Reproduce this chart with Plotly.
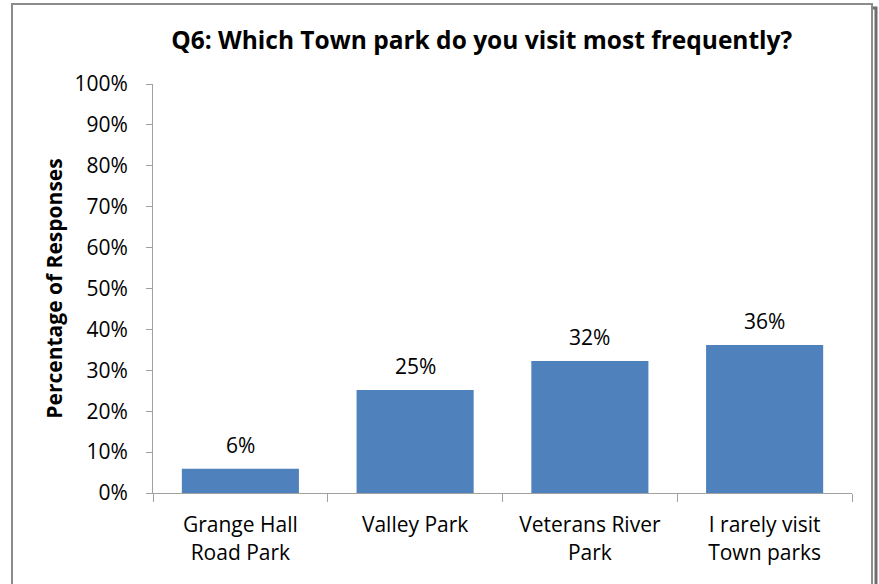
import plotly.graph_objects as go

categories = ["Grange Hall<br>Road Park", "Valley Park", "Veterans River<br>Park", "I rarely visit<br>Town parks"]
values = [5.9, 25.2, 32.3, 36.2]
labels = ["6%", "25%", "32%", "36%"]
y_ticks = list(range(0, 101, 10))
y_tick_labels = [f"{v}%" for v in y_ticks]

W, H = 879, 584
ML, MR, MT, MB = 153, 27, 84, 91
pw, ph = W - ML - MR, H - MT - MB


def px_x(x):
    return (x - ML) / pw


def px_y(y):
    return (H - MB - y) / ph


font = "Open Sans, Liberation Sans, sans-serif"

fig = go.Figure()
fig.add_trace(go.Bar(
    x=categories,
    y=values,
    marker={'color': '#4F81BD', 'line': {'width': 0}},
    width=0.67,
))

# data labels, placed a bit higher above the bars than plotly's default
for cat, val, lab in zip(categories, values, labels):
    fig.add_annotation(x=cat, y=val, text=lab, showarrow=False,
                       yanchor='middle', yshift=24,
                       font={'size': 21, 'color': '#000000', 'family': font})

fig.update_layout(
    width=W, height=H,
    margin={'l': ML, 'r': MR, 't': MT, 'b': MB},
    paper_bgcolor='white',
    plot_bgcolor='white',
    showlegend=False,
    font={'family': font, 'size': 21, 'color': '#000000'},
    title={'text': "<b>Q6: Which Town park do you visit most frequently?</b>",
           'x': 0.548, 'xanchor': 'center', 'y': 1 - 40 / H, 'yanchor': 'middle',
           'font': {'size': 24.5, 'family': font}},
    xaxis={
        'showgrid': False, 'showline': True, 'linecolor': '#A0A0A0', 'linewidth': 1,
        'ticks': 'outside', 'tickson': 'boundaries', 'ticklen': 8, 'tickcolor': '#A0A0A0',
        'tickfont': {'size': 21}, 'zeroline': False, 'ticklabelstandoff': 13,
    },
    yaxis={
        'range': [0, 100], 'tickvals': y_ticks, 'ticktext': y_tick_labels,
        'showgrid': False, 'showline': True, 'linecolor': '#A0A0A0', 'linewidth': 1,
        'ticks': 'outside', 'ticklen': 6, 'tickcolor': '#A0A0A0',
        'tickfont': {'size': 21}, 'zeroline': False, 'ticklabelstandoff': 14,
        'title': {'text': "<b>Percentage of Responses</b>", 'font': {'size': 21}, 'standoff': 6},
    },
    shapes=[
        # shadow
        dict(type='rect', xref='paper', yref='paper',
             x0=px_x(16), x1=px_x(876), y0=px_y(H + 4), y1=px_y(8),
             line={'color': '#6E6E6E', 'width': 3}, layer='below'),
        dict(type='rect', xref='paper', yref='paper',
             x0=px_x(12), x1=px_x(872), y0=px_y(H + 2), y1=px_y(4),
             line={'color': '#8C8C8C', 'width': 2}, fillcolor='white', layer='below'),
    ],
)

fig.write_html("out.html", config={'displayModeBar': False},
               post_script="document.body.style.margin='0';")
